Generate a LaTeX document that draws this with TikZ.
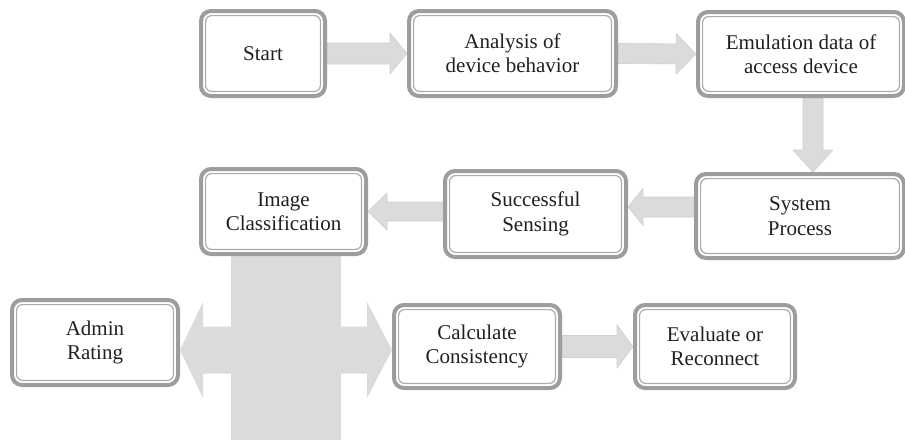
\documentclass[tikz,border=0pt]{standalone}
\usepackage{fontspec}
\setmainfont{Liberation Serif}
\newfontfamily\boxfont{Liberation Serif}
\usetikzlibrary{calc}
\pgfdeclarelayer{bg}
\pgfsetlayers{bg,main}
\definecolor{boxgray}{HTML}{9D9D9D}
\definecolor{innergray}{HTML}{ABABAB}
\definecolor{arrowfill}{HTML}{DCDBDA}
\definecolor{arrowedge}{HTML}{D0D0D0}
\definecolor{txt}{HTML}{231F20}
\tikzset{
  flowbox/.style={draw=boxgray, line width=4pt, rounded corners=10pt, fill=white,
    align=center, inner sep=2pt, outer sep=2pt, text=txt,
    font=\boxfont\fontsize{21}{24.3}\selectfont},
  innerline/.style={draw=innergray, line width=1.2pt, rounded corners=6pt},
  blockfill/.style={fill=arrowfill, draw=arrowedge, line width=0.6pt, line join=miter},
  crossfill/.style={fill=arrowfill}
}
% #1 start, #2 tip, #3 shaft half width, #4 head half width, #5 head length
\newcommand\blockarrow[5]{%
  \coordinate (ba-a) at #1;
  \coordinate (ba-b) at #2;
  \coordinate (ba-h) at ($(ba-b)!#5!(ba-a)$);
  \path[blockfill] ($(ba-a)!#3!90:(ba-b)$) -- ($(ba-h)!#3!90:(ba-b)$)
    -- ($(ba-h)!#4!90:(ba-b)$) -- (ba-b) -- ($(ba-h)!#4!-90:(ba-b)$)
    -- ($(ba-h)!#3!-90:(ba-b)$) -- ($(ba-a)!#3!-90:(ba-b)$) -- cycle;
}
\begin{document}
\begin{tikzpicture}[x=1pt,y=-1pt]
\useasboundingbox (0,0) rectangle (905,442);
% boxes
\node[flowbox, minimum width=124pt, minimum height=85pt] (start) at (263,53.5) {Start};
\node[flowbox, minimum width=207pt, minimum height=85pt] (analysis) at (512.5,53.5) {Analysis of\\device behavior};
\node[flowbox, minimum width=206pt, minimum height=84pt] (emul) at (801,54) {Emulation data of\\access device};
\node[flowbox, minimum width=208pt, minimum height=84pt] (system) at (800,216) {System\\Process};
\node[flowbox, minimum width=181pt, minimum height=86pt] (succ) at (535.5,214) {Successful\\Sensing};
\node[flowbox, minimum width=165pt, minimum height=85pt] (img) at (283.5,211.5) {Image\\Classification};
\node[flowbox, minimum width=166pt, minimum height=85pt] (admin) at (95,342.5) {Admin\\Rating};
\node[flowbox, minimum width=166pt, minimum height=83pt] (calc) at (477,346.5) {Calculate\\Consistency};
\node[flowbox, minimum width=160pt, minimum height=83pt] (eval) at (715,346.5) {Evaluate or\\Reconnect};
\foreach \n in {start,analysis,emul,system,succ,img,admin,calc,eval}
  \draw[innerline] ([shift={(6.6,6.6)}]\n.north west) rectangle ([shift={(-6.6,-6.6)}]\n.south east);
% helper coordinates
\coordinate (vx) at (813,0);
\coordinate (hs) at (0,207);
\coordinate (hi) at (0,211.5);
\coordinate (hy) at (0,350);
\coordinate (vbot) at (286,440);
\begin{pgfonlayer}{bg}
\blockarrow{(start.east)}{(analysis.west)}{10.5pt}{20.5pt}{17pt}
\blockarrow{(analysis.east)}{(emul.west)}{10pt}{20.5pt}{20pt}
\blockarrow{(emul.south -| vx)}{(system.north -| vx)}{10pt}{20pt}{22pt}
\blockarrow{(system.west |- hs)}{(succ.east |- hs)}{10pt}{18.5pt}{15pt}
\blockarrow{(succ.west |- hi)}{(img.east |- hi)}{9.5pt}{18.5pt}{19pt}
\blockarrow{(calc.east)}{(eval.west)}{11pt}{21.5pt}{16pt}
% cross: vertical bar and double-headed arrow
\coordinate (cl) at (admin.east |- hy);
\coordinate (cr) at (calc.west |- hy);
\path[crossfill] ([xshift=-55pt]vbot |- img.center) rectangle ([xshift=55pt]vbot);
\path[crossfill] (cl) -- ([shift={(23,-48)}]cl) -- ([shift={(23,-23.5)}]cl)
  -- ([shift={(-25,-23.5)}]cr) -- ([shift={(-25,-48)}]cr) -- (cr)
  -- ([shift={(-25,48)}]cr) -- ([shift={(-25,23.5)}]cr)
  -- ([shift={(23,23.5)}]cl) -- ([shift={(23,48)}]cl) -- cycle;
\end{pgfonlayer}
\end{tikzpicture}
\end{document}
